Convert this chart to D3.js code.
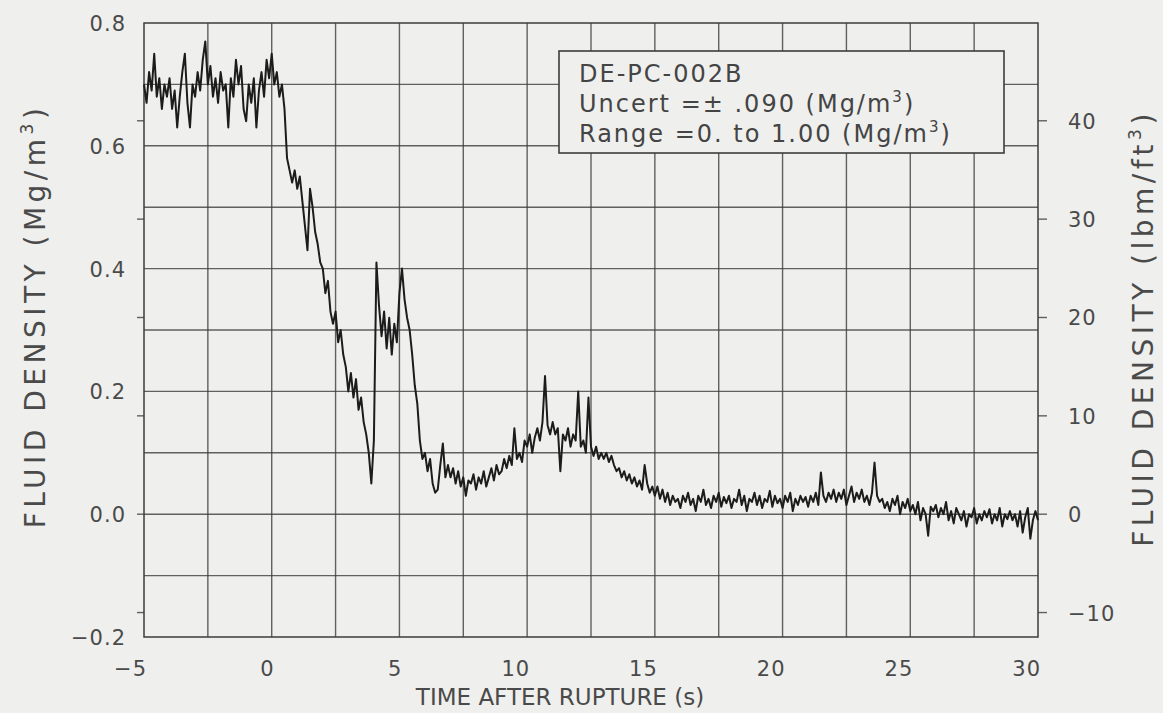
<!DOCTYPE html>
<html>
<head>
<meta charset="utf-8">
<script src="https://cdn.jsdelivr.net/npm/d3@7"></script>
<style>
  html, body { margin: 0; padding: 0; background: #efefed; }
  svg { display: block; }
  .grid line { stroke: #3c3c3c; stroke-width: 1.4; stroke-opacity: 0.8; }
  .frame { fill: none; stroke: #3c3c3c; stroke-width: 1.5; }
  .tick-label { font-family: 'DejaVu Sans', sans-serif; font-size: 21px; fill: #4a4a4a; letter-spacing: 1px; }
  .axis-title { font-family: 'DejaVu Sans', sans-serif; font-size: 28px; fill: #4a4a4a; letter-spacing: 4.5px; }
  .x-title { font-family: 'DejaVu Sans', sans-serif; font-size: 23px; fill: #4a4a4a; letter-spacing: 0px; }
  .legend-text { font-family: 'DejaVu Sans', sans-serif; font-size: 24px; fill: #444; letter-spacing: 2px; }
  .trace { fill: none; stroke: #1c1c1c; stroke-width: 2; stroke-linejoin: round; }
</style>
</head>
<body>
<svg id="chart"></svg>
<script>
// fluid density, Mg/m3, sampled every 0.1 s starting at t = -5 s (one row = 1 s)
var timeStart = -5;
var timeStep = 0.1;
var density = [
  0.70, 0.67, 0.72, 0.69, 0.75, 0.68, 0.71, 0.66, 0.70, 0.68,
  0.71, 0.66, 0.69, 0.63, 0.68, 0.72, 0.75, 0.67, 0.63, 0.70,
  0.68, 0.72, 0.69, 0.74, 0.77, 0.70, 0.73, 0.68, 0.71, 0.67,
  0.72, 0.69, 0.70, 0.63, 0.71, 0.68, 0.74, 0.70, 0.73, 0.66,
  0.64, 0.70, 0.67, 0.71, 0.63, 0.69, 0.72, 0.68, 0.74, 0.71,
  0.75, 0.70, 0.72, 0.68, 0.70, 0.66, 0.58, 0.56, 0.54, 0.56,
  0.53, 0.55, 0.51, 0.47, 0.43, 0.53, 0.50, 0.46, 0.44, 0.41,
  0.40, 0.36, 0.38, 0.33, 0.31, 0.33, 0.28, 0.30, 0.26, 0.24,
  0.20, 0.23, 0.19, 0.22, 0.17, 0.19, 0.15, 0.13, 0.10, 0.05,
  0.12, 0.41, 0.34, 0.29, 0.33, 0.27, 0.32, 0.26, 0.31, 0.28,
  0.36, 0.40, 0.35, 0.32, 0.30, 0.26, 0.21, 0.18, 0.12, 0.09,
  0.10, 0.07, 0.09, 0.05, 0.035, 0.04, 0.08, 0.115, 0.06, 0.08,
  0.06, 0.075, 0.05, 0.07, 0.045, 0.06, 0.03, 0.055, 0.05, 0.065,
  0.04, 0.06, 0.05, 0.07, 0.045, 0.06, 0.075, 0.055, 0.08, 0.065,
  0.07, 0.09, 0.075, 0.095, 0.08, 0.14, 0.09, 0.10, 0.085, 0.12,
  0.11, 0.13, 0.10, 0.125, 0.14, 0.12, 0.15, 0.225, 0.145, 0.13,
  0.15, 0.13, 0.14, 0.07, 0.13, 0.12, 0.14, 0.11, 0.13, 0.12,
  0.20, 0.11, 0.12, 0.10, 0.19, 0.11, 0.095, 0.11, 0.09, 0.10,
  0.09, 0.10, 0.085, 0.095, 0.08, 0.07, 0.075, 0.06, 0.07, 0.055,
  0.065, 0.05, 0.06, 0.045, 0.055, 0.04, 0.08, 0.05, 0.035, 0.045,
  0.03, 0.045, 0.025, 0.04, 0.02, 0.035, 0.015, 0.03, 0.02, 0.025,
  0.01, 0.03, 0.02, 0.035, 0.015, 0.025, 0.005, 0.03, 0.02, 0.04,
  0.015, 0.025, 0.01, 0.03, 0.02, 0.035, 0.012, 0.028, 0.018, 0.03,
  0.01, 0.025, 0.02, 0.04, 0.015, 0.03, 0.005, 0.025, 0.02, 0.035,
  0.015, 0.03, 0.01, 0.025, 0.02, 0.038, 0.012, 0.03, 0.018, 0.025,
  0.01, 0.03, 0.02, 0.035, 0.005, 0.025, 0.015, 0.03, 0.02, 0.028,
  0.012, 0.03, 0.02, 0.035, 0.015, 0.068, 0.03, 0.02, 0.035, 0.025,
  0.04, 0.02, 0.035, 0.025, 0.04, 0.015, 0.03, 0.045, 0.02, 0.035,
  0.025, 0.04, 0.02, 0.03, 0.015, 0.035, 0.084, 0.03, 0.02, 0.025,
  0.01, 0.02, 0.005, 0.025, 0.015, 0.03, 0.0, 0.02, 0.01, 0.025,
  0.005, 0.015, 0.0, 0.02, -0.01, 0.01, 0.0, -0.035, 0.012, 0.005,
  0.015, -0.005, 0.01, 0.0, 0.02, -0.01, 0.005, -0.015, 0.01, 0.0,
  -0.01, 0.005, -0.02, 0.0, -0.005, 0.01, -0.015, 0.0, -0.01, 0.005,
  -0.005, 0.008, -0.015, 0.0, -0.01, 0.01, -0.02, 0.0, -0.008, 0.005,
  -0.01, 0.0, -0.02, 0.005, -0.03, -0.005, 0.01, -0.04, -0.01, 0.005,
  -0.01
];

var xTicks = [-5, 0, 5, 10, 15, 20, 25, 30];
var xGrid = [-2.5, 0, 2.5, 5, 7.5, 10, 12.5, 15, 17.5, 20, 22.5, 25, 27.5];
var yTicks = [-0.2, 0.0, 0.2, 0.4, 0.6, 0.8];
var yGrid = [-0.1, 0.0, 0.1, 0.2, 0.3, 0.4, 0.5, 0.6, 0.7];
var lbmTicks = [-10, 0, 10, 20, 30, 40];
var legendLines = ['DE-PC-002B', 'Uncert =\u00b1 .090 (Mg/m', 'Range =0. to 1.00 (Mg/m'];

var lbmPerMg = 1 / 0.0160185;
var width = 1163;
var height = 713;
var margin = {top: 23, right: 125, bottom: 76, left: 144};

var svg = d3.select('#chart')
    .attr('width', width)
    .attr('height', height);

var x = d3.scaleLinear().domain([-5, 30]).range([margin.left, width - margin.right]);
var y = d3.scaleLinear().domain([-0.2, 0.8]).range([height - margin.bottom, margin.top]);
var yR = d3.scaleLinear().domain([-0.2 * lbmPerMg, 0.8 * lbmPerMg]).range(y.range());

svg.append('rect')
  .attr('width', width)
  .attr('height', height)
  .attr('fill', '#efefed');

// grid
var grid = svg.append('g').attr('class', 'grid');
grid.selectAll('.vx')
  .data(xGrid).enter()
  .append('line')
    .attr('x1', function (d) { return x(d); })
    .attr('x2', function (d) { return x(d); })
    .attr('y1', y(0.8))
    .attr('y2', y(-0.2));
grid.selectAll('.hy')
  .data(yGrid).enter()
  .append('line')
    .attr('x1', x(-5))
    .attr('x2', x(30))
    .attr('y1', function (d) { return y(d); })
    .attr('y2', function (d) { return y(d); });

svg.append('rect')
  .attr('class', 'frame')
  .attr('x', x(-5))
  .attr('y', y(0.8))
  .attr('width', x(30) - x(-5))
  .attr('height', y(-0.2) - y(0.8));

// lbm/ft3 ticks, outside on both sides
var ticks = svg.append('g').attr('class', 'grid');
ticks.selectAll('.rt')
  .data(lbmTicks).enter()
  .append('line')
    .attr('x1', x(30))
    .attr('x2', x(30) + 9)
    .attr('y1', function (d) { return yR(d); })
    .attr('y2', function (d) { return yR(d); });
ticks.selectAll('.lt')
  .data(lbmTicks).enter()
  .append('line')
    .attr('x1', x(-5) - 7)
    .attr('x2', x(-5))
    .attr('y1', function (d) { return yR(d); })
    .attr('y2', function (d) { return yR(d); });

// labels
svg.append('g').selectAll('text')
  .data(xTicks).enter()
  .append('text')
    .attr('class', 'tick-label')
    .attr('x', function (d) { return x(d) + 3; })
    .attr('y', 676)
    .attr('text-anchor', 'end')
    .text(function (d) { return d < 0 ? '\u2212' + Math.abs(d) : d; });

svg.append('g').selectAll('text')
  .data(yTicks).enter()
  .append('text')
    .attr('class', 'tick-label')
    .attr('x', 126)
    .attr('y', function (d) { return y(d) + 8; })
    .attr('text-anchor', 'end')
    .text(function (d) { return (d < 0 ? '\u2212' : '') + d3.format('.1f')(Math.abs(d)); });

svg.append('g').selectAll('text')
  .data(lbmTicks).enter()
  .append('text')
    .attr('class', 'tick-label')
    .attr('x', 1068)
    .attr('y', function (d) { return yR(d) + 8; })
    .text(function (d) { return (d < 0 ? '\u2212' : '') + Math.abs(d); });

svg.append('text')
  .attr('class', 'x-title')
  .attr('x', 560)
  .attr('y', 705)
  .attr('text-anchor', 'middle')
  .text('TIME AFTER RUPTURE (s)');

var addUnitTitle = function (tx, ty, unit) {
  var t = svg.append('text')
      .attr('class', 'axis-title')
      .attr('transform', 'translate(' + tx + ',' + ty + ') rotate(-90)')
      .attr('text-anchor', 'middle');
  t.append('tspan').text('FLUID DENSITY (' + unit);
  t.append('tspan').attr('dy', -12).attr('font-size', 17).text('3');
  t.append('tspan').attr('dy', 12).text(')');
};
addUnitTitle(45, 316, 'Mg/m');
addUnitTitle(1153, 328, 'lbm/ft');

// data trace
var line = d3.line()
    .x(function (d, i) { return x(timeStart + i * timeStep); })
    .y(function (d) { return y(d); });

svg.append('path')
  .datum(density)
  .attr('class', 'trace')
  .attr('d', line);

// legend box
var legend = svg.append('g');
legend.append('rect')
  .attr('x', 559)
  .attr('y', 51)
  .attr('width', 445)
  .attr('height', 102)
  .attr('fill', '#efefed')
  .attr('stroke', '#3c3c3c')
  .attr('stroke-width', 1.6);
legend.selectAll('text')
  .data(legendLines).enter()
  .append('text')
    .attr('class', 'legend-text')
    .attr('x', 579)
    .attr('y', function (d, i) { return 82 + i * 30; })
    .each(function (d, i) {
      var t = d3.select(this);
      t.append('tspan').text(d);
      if (i > 0) {
        t.append('tspan').attr('dy', -10).attr('font-size', 15).text('3');
        t.append('tspan').attr('dy', 10).text(')');
      }
    });
</script>
</body>
</html>
